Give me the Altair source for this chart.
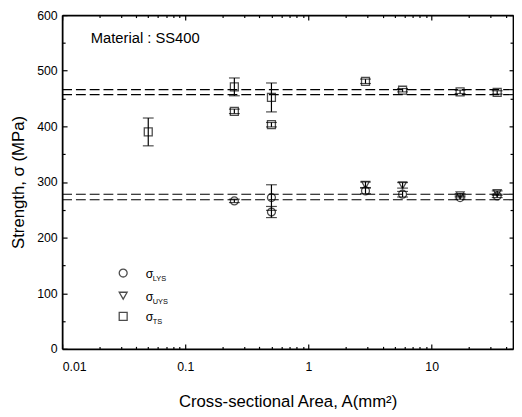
import altair as alt
import pandas as pd

FONT = "Liberation Sans"
W, H = 458, 339

# ---------------- data ----------------
series_order = ["LYS", "UYS", "TS"]
series_shapes = ["circle", "triangle-down", "square"]

lys_area = [0.25, 0.5, 0.5, 2.9, 5.8, 17, 34]
lys_val = [266, 272, 246, 284, 278, 272, 275]
lys_err = [3, 23, 10, 5, 5, 3, 3]

uys_area = [2.9, 5.8, 17, 34]
uys_val = [295, 294, 276, 280]
uys_err = [5, 5, 3, 4]

ts_area = [0.05, 0.25, 0.25, 0.5, 0.5, 2.9, 5.8, 17, 34]
ts_val = [390, 471, 427, 452, 403, 481, 465, 462, 461]
ts_err = [25, 16, 4, 26, 4, 4, 3, 3, 3]

fit_levels = [466, 457, 278, 268]

x_major = [0.01, 0.1, 1, 10]
x_minor = [0.02, 0.03, 0.04, 0.05, 0.06, 0.07, 0.08, 0.09,
           0.2, 0.3, 0.4, 0.5, 0.6, 0.7, 0.8, 0.9,
           2, 3, 4, 5, 6, 7, 8, 9, 20, 30, 40]
y_major = [0, 100, 200, 300, 400, 500, 600]
y_minor = [50, 150, 250, 350, 450, 550]

x_title = "Cross-sectional Area, A(mm²)"
y_title = "Strength, σ (MPa)"
note = "Material : SS400"

# ---------------- tables ----------------
rows = []
for name, areas, vals, errs in [("LYS", lys_area, lys_val, lys_err),
                                ("UYS", uys_area, uys_val, uys_err),
                                ("TS", ts_area, ts_val, ts_err)]:
    for a, v, e in zip(areas, vals, errs):
        rows.append({"series": name, "area": a, "value": v, "lo": v - e, "hi": v + e})
df = pd.DataFrame(rows)
fit_df = pd.DataFrame({"level": fit_levels})

xs = alt.Scale(type="log", domain=[0.01, 45.7], nice=False)
ys = alt.Scale(domain=[0, 600], nice=False, zero=False)


def ax(**kw):
    base = dict(grid=False, title=None, tickColor="black", domainColor="black",
                tickWidth=1.2, domainWidth=1.8)
    base.update(kw)
    return alt.Axis(**base)


anchor = pd.DataFrame({"gx": [1.0], "gy": [300.0]})


def guide(xaxis, yaxis):
    return alt.Chart(anchor).mark_point(opacity=0).encode(
        x=alt.X("gx:Q", scale=xs, axis=xaxis),
        y=alt.Y("gy:Q", scale=ys, axis=yaxis),
    )


# main labelled axes (bottom / left)
g_main = guide(
    ax(orient="bottom", values=x_major, format="~g", ticks=False, tickSize=0,
       labelPadding=12, labelFontSize=12.5, labelFont=FONT, labelColor="black",
       title=x_title, titleFont=FONT, titleFontSize=17, titleFontWeight="normal",
       titleColor="black", titlePadding=21),
    ax(orient="left", values=y_major, ticks=False, tickSize=0,
       labelPadding=5, labelFontSize=12.5, labelFont=FONT, labelColor="black",
       title=y_title, titleFont=FONT, titleFontSize=17, titleFontWeight="normal",
       titleColor="black", titlePadding=9),
)
# inward major ticks on bottom / left
g_in_major = guide(
    ax(orient="top", offset=-H, values=x_major, labels=False, domain=False, tickSize=5),
    ax(orient="right", offset=-W, values=y_major, labels=False, domain=False, tickSize=5),
)
# inward minor ticks on bottom / left
g_in_minor = guide(
    ax(orient="top", offset=-H, values=x_minor, labels=False, domain=False, tickSize=2.5),
    ax(orient="right", offset=-W, values=y_minor, labels=False, domain=False, tickSize=3),
)
# top / right frame with inward major ticks
g_frame_major = guide(
    ax(orient="bottom", offset=-H, values=x_major, labels=False, domain=True, tickSize=5),
    ax(orient="left", offset=-W, values=y_major, labels=False, domain=True, tickSize=4),
)
g_frame_minor = guide(
    ax(orient="bottom", offset=-H, values=x_minor, labels=False, domain=False, tickSize=2.5),
    ax(orient="left", offset=-W, values=y_minor, labels=False, domain=False, tickSize=3),
)

fits = alt.Chart(fit_df).mark_rule(color="black", strokeWidth=1.1, strokeDash=[10, 4]).encode(
    y=alt.Y("level:Q", scale=ys, axis=None)
)

bars = alt.Chart(df).mark_rule(color="black", strokeWidth=1.2).encode(
    x=alt.X("area:Q", scale=xs, axis=None),
    y=alt.Y("lo:Q", scale=ys, axis=None),
    y2="hi:Q",
)
cap_lo = alt.Chart(df).mark_tick(orient="horizontal", color="black", size=11, thickness=1.2).encode(
    x=alt.X("area:Q", scale=xs, axis=None),
    y=alt.Y("lo:Q", scale=ys, axis=None),
)
cap_hi = alt.Chart(df).mark_tick(orient="horizontal", color="black", size=11, thickness=1.2).encode(
    x=alt.X("area:Q", scale=xs, axis=None),
    y=alt.Y("hi:Q", scale=ys, axis=None),
)
points = alt.Chart(df).mark_point(filled=False, color="black", strokeWidth=1.3, size=65).encode(
    x=alt.X("area:Q", scale=xs, axis=None),
    y=alt.Y("value:Q", scale=ys, axis=None),
    shape=alt.Shape("series:N", scale=alt.Scale(domain=series_order, range=series_shapes), legend=None),
)

note_layer = alt.Chart(pd.DataFrame({"t": [note]})).mark_text(
    align="left", baseline="alphabetic", font=FONT, fontSize=15, color="black"
).encode(text="t:N", x=alt.value(29), y=alt.value(28))

# hand-made legend (subscripted labels)
legend_layers = []
leg_y = [262, 285, 306]
for name, shp, yy in zip(series_order, series_shapes, leg_y):
    one = pd.DataFrame({"sub": [name], "sym": ["σ"]})
    legend_layers.append(
        alt.Chart(one).mark_point(shape=shp, filled=False, color="black", strokeWidth=1.3, size=65)
        .encode(x=alt.value(62), y=alt.value(yy))
    )
    legend_layers.append(
        alt.Chart(one).mark_text(align="left", baseline="alphabetic", font=FONT, fontSize=12.5, color="black")
        .encode(text="sym:N", x=alt.value(85), y=alt.value(yy + 5))
    )
    legend_layers.append(
        alt.Chart(one).mark_text(align="left", baseline="alphabetic", font=FONT, fontSize=7.5, color="black")
        .encode(text="sub:N", x=alt.value(92), y=alt.value(yy + 8))
    )

chart = alt.layer(
    g_main, g_in_major, g_in_minor, g_frame_major, g_frame_minor,
    fits, bars, cap_lo, cap_hi, points, note_layer, *legend_layers
).resolve_axis(x="independent", y="independent").properties(
    width=W, height=H,
    autosize=alt.AutoSizeParams(type="none"),
    padding={"left": 55, "top": 4, "right": 1, "bottom": 66},
    background="white",
).configure_view(stroke=None)

chart.save("out.html", embed_options={"renderer": "svg", "actions": False})
